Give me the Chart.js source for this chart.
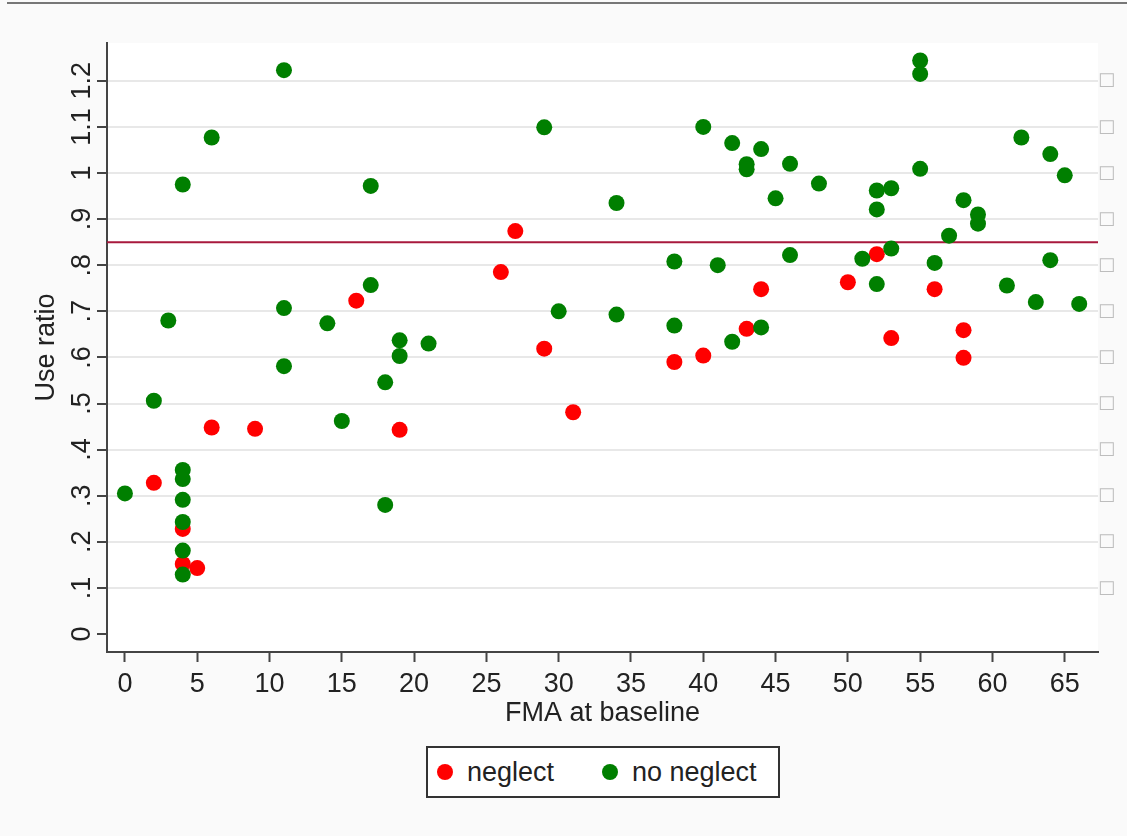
<!DOCTYPE html>
<html>
<head>
<meta charset="utf-8">
<script src="https://cdn.jsdelivr.net/npm/chart.js@4.4.1/dist/chart.umd.min.js"></script>
<style>
    body { margin: 0; background: #fafafa; font-family: "Liberation Sans", Arial, sans-serif; }
    #wrap { position: relative; width: 1127px; height: 836px; }
    #topline { position: absolute; left: 7px; right: 0; top: 2px; height: 2px; background: #777; }
    #legend { position: absolute; left: 426px; top: 746px; width: 354px; height: 52px; box-sizing: border-box;
              border: 2px solid #333; background: #fff; color: #222; font-size: 27px; }
    #legend .dot { position: absolute; width: 16px; height: 16px; border-radius: 50%; top: 16px; }
    #legend .txt { position: absolute; top: 8px; line-height: 32px; }
</style>
</head>
<body>
<div id="wrap">
    <canvas id="chart" width="1127" height="836"></canvas>
    <div id="topline"></div>
    <div id="legend">
        <span class="dot" style="left:9px;background:#ff0000"></span><span class="txt" style="left:39px">neglect</span>
        <span class="dot" style="left:174px;background:#007f00"></span><span class="txt" style="left:204px">no neglect</span>
    </div>
</div>
<script>
// FMA at baseline (x) and use ratio (y)
const neglectFMA = [2, 4, 4, 5, 6, 9, 16, 19, 26, 27, 29, 31, 38, 40, 43, 44, 50, 52, 53, 56, 58, 58];
const neglectRatio = [0.328, 0.228, 0.152, 0.143, 0.448, 0.445, 0.723, 0.443, 0.785, 0.874, 0.619,
    0.481, 0.59, 0.604, 0.662, 0.748, 0.763, 0.824, 0.642, 0.748, 0.659, 0.599];

const noNeglectFMA = [0, 2, 3, 4, 4, 4, 4, 4, 4, 4, 6, 11, 11, 11, 14, 15, 17, 17, 18, 18,
    19, 19, 21, 29, 30, 34, 34, 38, 38, 40, 41, 42, 42, 43, 43, 44, 44, 45, 46, 46,
    48, 51, 52, 52, 52, 53, 53, 55, 55, 55, 56, 57, 58, 59, 59, 61, 62, 63, 64, 64, 65, 66];
const noNeglectRatio = [0.305, 0.506, 0.68, 0.975, 0.356, 0.336, 0.291, 0.243, 0.181, 0.129,
    1.077, 1.223, 0.707, 0.581, 0.674, 0.462, 0.972, 0.757, 0.546, 0.28,
    0.637, 0.603, 0.63, 1.099, 0.70, 0.935, 0.693, 0.808, 0.669, 1.10,
    0.80, 1.065, 0.634, 1.019, 1.008, 1.052, 0.665, 0.945, 1.02, 0.822,
    0.977, 0.814, 0.962, 0.921, 0.759, 0.967, 0.836, 1.244, 1.215, 1.009,
    0.805, 0.864, 0.941, 0.91, 0.89, 0.756, 1.077, 0.72, 1.041, 0.811, 0.995, 0.716];

const refLine = 0.85;

const xMin = -1.24, xMax = 67.3, xStep = 5;
const yMin = -0.039, yMax = 1.282, yStep = 0.1;

use_ratio_chart();
function use_ratio_chart() {
    const $chart = document.querySelector('#chart');
    if (!$chart) {
        return;
    }
    const ctx = $chart.getContext('2d');

    const pts = (xs, ys) => xs.map((x, i) => ({x: x, y: ys[i]}));
    const fmtY = v => {
        const r = Math.round(v * 10) / 10;
        return r === 0 ? '0' : String(r).replace(/^0\./, '.');
    };
    const font = {family: '"Liberation Sans", Arial, sans-serif', size: 27};

    const bgPlugin = {
        id: 'bg',
        beforeDraw(c) {
            const a = c.chartArea;
            c.ctx.save();
            c.ctx.fillStyle = '#ffffff';
            c.ctx.fillRect(a.left, a.top, a.right - a.left, a.bottom - a.top);
            c.ctx.restore();
        }
    };

    new Chart(ctx, {
        type: 'scatter',
        data: {
            datasets: [{
                label: 'no neglect',
                data: pts(noNeglectFMA, noNeglectRatio),
                backgroundColor: '#007f00',
                borderWidth: 0,
                pointRadius: 8,
                order: 0
            }, {
                label: 'neglect',
                data: pts(neglectFMA, neglectRatio),
                backgroundColor: '#ff0000',
                borderWidth: 0,
                pointRadius: 8,
                order: 1
            }, {
                type: 'line',
                label: 'ref',
                data: [{x: xMin, y: refLine}, {x: xMax, y: refLine}],
                borderColor: '#a8193d',
                borderWidth: 2,
                pointRadius: 0,
                order: 2
            }]
        },
        options: {
            responsive: false,
            animation: false,
            events: [],
            layout: { padding: {top: 43, left: 0, right: 0, bottom: 94} },
            plugins: { legend: {display: false}, tooltip: {enabled: false} },
            scales: {
                x: {
                    type: 'linear',
                    min: xMin,
                    max: xMax,
                    afterFit: s => { s.height = 90; },
                    border: {display: true, color: '#444', width: 2},
                    grid: {display: true, drawOnChartArea: false, tickLength: 10, tickColor: '#444', tickWidth: 2},
                    ticks: {stepSize: xStep, includeBounds: false, autoSkip: false, maxRotation: 0,
                            padding: 6, color: '#222', font: font},
                    title: {display: true, text: 'FMA at baseline', color: '#222', font: font, padding: {bottom: 12}}
                },
                y: {
                    type: 'linear',
                    min: yMin,
                    max: yMax,
                    afterFit: s => { s.width = 107; },
                    border: {display: true, color: '#444', width: 2},
                    grid: {
                        color: c => (c.tick && Math.abs(c.tick.value) < 1e-6) ? 'rgba(0,0,0,0)' : '#e8e8e8',
                        lineWidth: 2,
                        tickLength: 10,
                        tickColor: '#444',
                        tickWidth: 2
                    },
                    ticks: {stepSize: yStep, includeBounds: false, minRotation: 90, maxRotation: 90,
                            crossAlign: 'center', padding: -4, color: '#222', font: font, callback: fmtY},
                    title: {display: true, text: 'Use ratio', color: '#222', font: font, padding: {top: 30}}
                },
                y2: {
                    type: 'linear',
                    position: 'right',
                    min: yMin,
                    max: yMax,
                    afterFit: s => { s.width = 29; },
                    border: {display: false},
                    grid: {display: false, drawTicks: false},
                    ticks: {stepSize: yStep, includeBounds: false, padding: 0, color: '#bdbdbd',
                            font: {family: '"DejaVu Sans"', size: 18},
                            callback: v => v > 0.05 ? '\u25A1' : ''}
                }
            }
        },
        plugins: [bgPlugin]
    });
}
</script>
</body>
</html>
